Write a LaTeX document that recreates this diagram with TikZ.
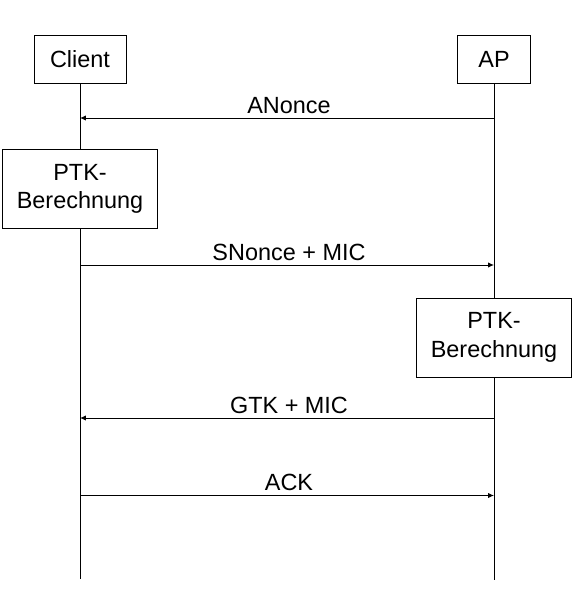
\documentclass[tikz,border=0pt]{standalone}
\usepackage{fontspec}
\setmainfont{Liberation Sans}
\usepackage{tikz}
\usetikzlibrary{arrows.meta}
\tikzstyle{box}=[draw, fill=white, inner sep=0pt, align=center, font=\fontsize{20}{24.5}\selectfont]
\tikzstyle{actor}=[box, minimum height=1.44cm]
\tikzstyle{calc}=[box, minimum width=4.66cm, minimum height=2.36cm]
\tikzstyle{lifeline}=[line width=0.8pt]
\tikzstyle{msg}=[line width=0.8pt, -{Latex[length=5pt, width=4.5pt]}]
\tikzstyle{msglabel}=[above, xshift=0.06cm, font=\fontsize{20}{24.5}\selectfont]

\begin{document}
\begin{tikzpicture}[x=0.03cm, y=-0.03cm]
        \useasboundingbox (0, 0) rectangle (579, 589);
        \node[actor, minimum width=2.76cm] (Client) at (80, 59) {Client};
        \node[actor, minimum width=2.19cm] (AP)     at (494, 59) {AP};
        \node[calc] (PTKclient) at (80, 189) {PTK-\\Berechnung};
        \node[calc] (PTKap)     at (494, 337.5) {PTK-\\Berechnung};
        \coordinate (Clientend) at (80, 579);
        \coordinate (APend)     at (494, 580);
        \draw[lifeline] (Client) -- (PTKclient) -- (Clientend);
        \draw[lifeline] (AP) -- (PTKap) -- (APend);
        \draw[msg] (AP |- 0, 118) -- node[msglabel] {ANonce} (Client |- 0, 118);
        \draw[msg] (Client |- 0, 265) -- node[msglabel] {SNonce + MIC} (AP |- 0, 265);
        \draw[msg] (AP |- 0, 418) -- node[msglabel] {GTK + MIC} (Client |- 0, 418);
        \draw[msg] (Client |- 0, 495.5) -- node[msglabel] {ACK} (AP |- 0, 495.5);
    \end{tikzpicture}
\end{document}
